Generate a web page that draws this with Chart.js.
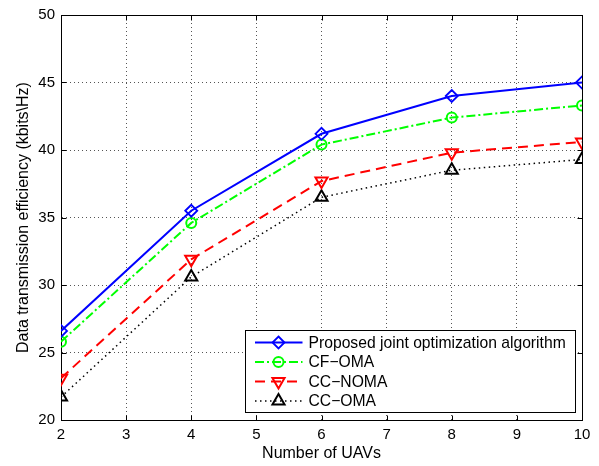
<!DOCTYPE html>
<html><head><meta charset="utf-8">
<script src="https://cdn.jsdelivr.net/npm/chart.js@4/dist/chart.umd.min.js"></script>
<style>html,body{margin:0;padding:0;background:#fff}#wrap{width:599px;height:466px}</style>
</head><body><div id="wrap"><canvas id="c" width="599" height="466"></canvas></div>
<script>
const uavCounts = [2, 4, 6, 8, 10];
const proposed = [26.6, 35.5, 41.2, 44.0, 45.0];
const cfOma = [25.8, 34.6, 40.4, 42.4, 43.3];
const ccNoma = [23.1, 31.9, 37.7, 39.8, 40.6];
const ccOma = [21.7, 30.6, 36.5, 38.5, 39.3];
const seriesLabels = ['Proposed joint optimization algorithm', 'CF\u2212OMA', 'CC\u2212NOMA', 'CC\u2212OMA'];
const xTicks = [2, 3, 4, 5, 6, 7, 8, 9, 10];
const yTicks = [20, 25, 30, 35, 40, 45, 50];
const xTitle = 'Number of UAVs';
const yTitle = 'Data transmission efficiency (kbits\\Hz)';

const FONT = '"Liberation Sans", Arial, Helvetica, sans-serif';
Chart.defaults.font.family = FONT;
Chart.defaults.font.size = 15;
Chart.defaults.color = '#000';

const toPts = vals => uavCounts.map((x, i) => ({x: x, y: vals[i]}));

function drawMarker(ctx, style, rot, r, x, y) {
  ctx.beginPath();
  if (style === 'rectRot') {
    ctx.moveTo(x, y - r); ctx.lineTo(x + r, y); ctx.lineTo(x, y + r); ctx.lineTo(x - r, y); ctx.closePath();
  } else if (style === 'circle') {
    ctx.arc(x, y, r, 0, Math.PI * 2);
  } else if (style === 'triangle') {
    const s = rot ? -1 : 1;
    const half = Math.sqrt(3) * r / 2;
    ctx.moveTo(x, y - s * r);
    ctx.lineTo(x + half, y + s * r / 2);
    ctx.lineTo(x - half, y + s * r / 2);
    ctx.closePath();
  }
  ctx.stroke();
}

const framePlugin = {
  id: 'frame',
  beforeDatasetsDraw(chart) {
    const {ctx, chartArea: a, scales: {x, y}} = chart;
    ctx.save();
    ctx.strokeStyle = '#000'; ctx.lineWidth = 1; ctx.setLineDash([]);
    const l = Math.round(a.left) + 0.5, t = Math.round(a.top) + 0.5;
    const r = Math.round(a.right) + 0.5, b = Math.round(a.bottom) + 0.5;
    ctx.strokeRect(l, t, r - l, b - t);
    const L = 5;
    ctx.beginPath();
    x.ticks.forEach(tk => {
      const px = Math.round(x.getPixelForValue(tk.value)) + 0.5;
      ctx.moveTo(px, b); ctx.lineTo(px, b - L);
      ctx.moveTo(px, t); ctx.lineTo(px, t + L);
    });
    y.ticks.forEach(tk => {
      const py = Math.round(y.getPixelForValue(tk.value)) + 0.5;
      ctx.moveTo(l, py); ctx.lineTo(l + L, py);
      ctx.moveTo(r, py); ctx.lineTo(r - L, py);
    });
    ctx.stroke();
    ctx.restore();
  },
  afterDraw(chart) {
    const {ctx, chartArea: a} = chart;
    const bx1 = Math.round(a.right) - 7 + 0.5, by2 = Math.round(a.bottom) - 8 + 0.5;
    const bx0 = bx1 - 330, by0 = by2 - 82;
    ctx.save();
    ctx.fillStyle = '#fff';
    ctx.fillRect(bx0, by0, bx1 - bx0, by2 - by0);
    ctx.strokeStyle = '#000'; ctx.lineWidth = 1; ctx.setLineDash([]);
    ctx.strokeRect(bx0, by0, bx1 - bx0, by2 - by0);
    chart.data.datasets.forEach((ds, i) => {
      const cy = by0 + 12 + i * 19.5;
      const lx0 = bx0 + 9.5, lx1 = bx0 + 57, mx = bx0 + 33;
      ctx.strokeStyle = ds.borderColor;
      ctx.lineWidth = ds.borderWidth;
      ctx.setLineDash(ds.borderDash || []);
      ctx.beginPath(); ctx.moveTo(lx0, cy); ctx.lineTo(lx1, cy); ctx.stroke();
      ctx.setLineDash([]);
      ctx.lineWidth = ds.pointBorderWidth;
      drawMarker(ctx, ds.pointStyle, ds.pointRotation, ds.pointRadius, mx, cy);
      ctx.fillStyle = '#000';
      ctx.font = '15.7px ' + FONT;
      ctx.textBaseline = 'middle';
      ctx.textAlign = 'left';
      ctx.fillText(ds.label, bx0 + 63, cy + 1);
    });
    ctx.restore();
  }
};

new Chart(document.getElementById('c'), {
  type: 'line',
  data: {
    datasets: [
      {label: seriesLabels[0], data: toPts(proposed), borderColor: '#0000ff', borderWidth: 2,
       pointStyle: 'rectRot', pointRadius: 6, pointBorderWidth: 1.8, pointBackgroundColor: 'rgba(0,0,0,0)', pointBorderColor: '#0000ff', pointRotation: 0},
      {label: seriesLabels[1], data: toPts(cfOma), borderColor: '#00ff00', borderWidth: 2, borderDash: [9, 3, 2, 3],
       pointStyle: 'circle', pointRadius: 5, pointBorderWidth: 2, pointBackgroundColor: 'rgba(0,0,0,0)', pointBorderColor: '#00ff00', pointRotation: 0},
      {label: seriesLabels[2], data: toPts(ccNoma), borderColor: '#ff0000', borderWidth: 2, borderDash: [10, 6],
       pointStyle: 'triangle', pointRotation: 180, pointRadius: 7, pointBorderWidth: 2, pointBackgroundColor: 'rgba(0,0,0,0)', pointBorderColor: '#ff0000'},
      {label: seriesLabels[3], data: toPts(ccOma), borderColor: '#000000', borderWidth: 1.5, borderDash: [1.5, 3.5],
       pointStyle: 'triangle', pointRotation: 0, pointRadius: 7, pointBorderWidth: 2, pointBackgroundColor: 'rgba(0,0,0,0)', pointBorderColor: '#000000'}
    ]
  },
  options: {
    responsive: false,
    animation: false,
    devicePixelRatio: 1,
    layout: {padding: {left: 0, right: 17, top: 11, bottom: 0}},
    elements: {line: {tension: 0}},
    plugins: {legend: {display: false}, tooltip: {enabled: false}},
    scales: {
      x: {
        type: 'linear', position: 'bottom', min: 2, max: 10,
        afterBuildTicks: s => { s.ticks = xTicks.map(v => ({value: v})); },
        grid: {color: '#555', lineWidth: 1, drawTicks: false},
        border: {display: true, color: '#000', dash: [1, 3]},
        ticks: {padding: 6, maxRotation: 0, autoSkip: false, color: '#000', font: {size: 15}},
        title: {display: true, text: xTitle, color: '#000', font: {size: 16}, padding: {top: 0, bottom: 3}},
        afterFit: s => { s.height = 46; }
      },
      y: {
        type: 'linear', position: 'left', min: 20, max: 50,
        afterBuildTicks: s => { s.ticks = yTicks.map(v => ({value: v})); },
        grid: {color: '#555', lineWidth: 1, drawTicks: false},
        border: {display: true, color: '#000', dash: [1, 3]},
        ticks: {padding: 6, color: '#000', font: {size: 15}},
        title: {display: true, text: yTitle, color: '#000', font: {size: 16}, padding: {top: 14, bottom: 0}},
        afterFit: s => { s.width = 61; }
      }
    }
  },
  plugins: [framePlugin]
});
</script>
</body></html>
